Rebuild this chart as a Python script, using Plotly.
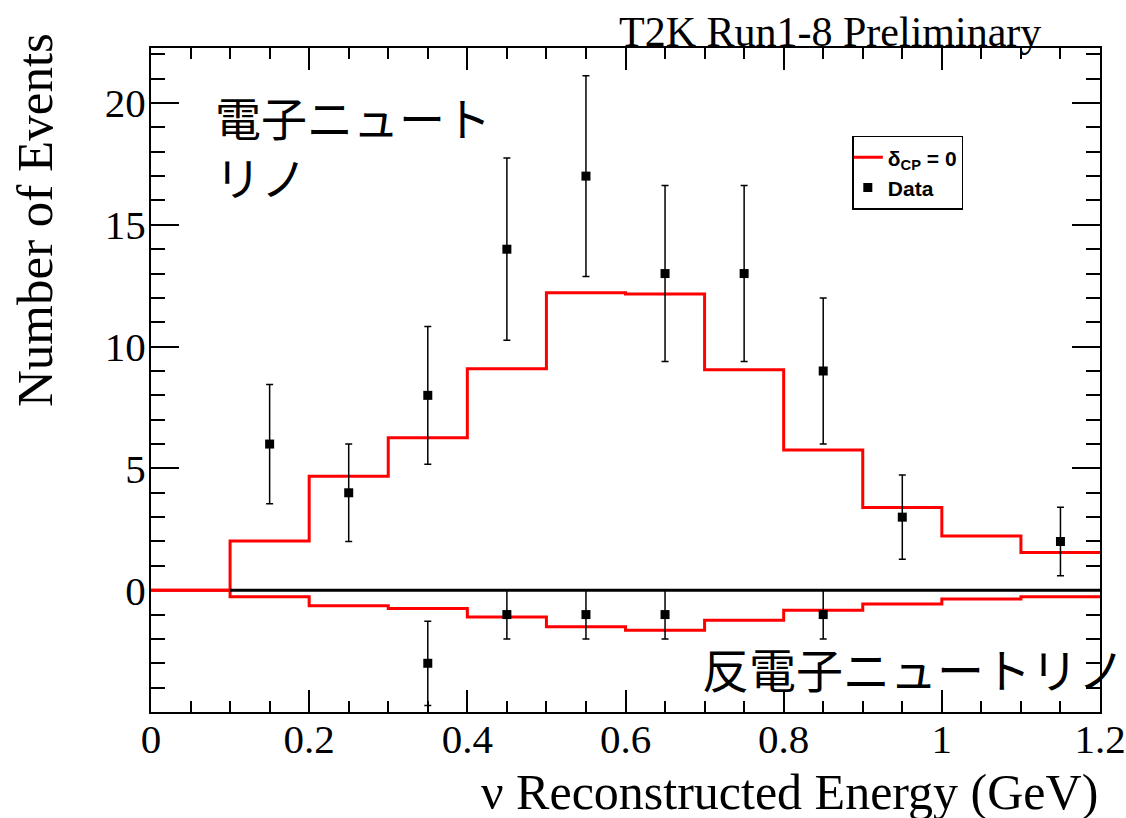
import plotly.graph_objects as go

# ---- data ----
bin_edges = [0.0, 0.1, 0.2, 0.3, 0.4, 0.5, 0.6, 0.7, 0.8, 0.9, 1.0, 1.1, 1.2]
nue_pred = [0.0, 2.02, 4.68, 6.26, 9.09, 12.21, 12.16, 9.05, 5.76, 3.40, 2.23, 1.55]
nuebar_pred = [0.0, -0.27, -0.64, -0.75, -1.10, -1.50, -1.64, -1.23, -0.82, -0.57, -0.36, -0.27]

nue_x = [0.15, 0.25, 0.35, 0.45, 0.55, 0.65, 0.75, 0.85, 0.95, 1.15]
nue_data = [6, 4, 8, 14, 17, 13, 13, 9, 3, 2]
nue_err = [2.45, 2.0, 2.83, 3.74, 4.12, 3.61, 3.61, 3.0, 1.73, 1.41]

nuebar_x = [0.35, 0.45, 0.55, 0.65, 0.85]
nuebar_data = [-3, -1, -1, -1, -1]
nuebar_err = [1.73, 1.0, 1.0, 1.0, 1.0]

zero_x = [0.1, 1.2]
zero_y = [0, 0]

x_ticks = [0, 0.2, 0.4, 0.6, 0.8, 1.0, 1.2]
x_ticklabels = ["0", "0.2", "0.4", "0.6", "0.8", "1", "1.2"]
y_ticks = [0, 5, 10, 15, 20]

SERIF = "Liberation Serif, Times New Roman, serif"
RED = "#ff0000"

fig = go.Figure()

# step histograms
fig.add_trace(go.Scatter(
    x=bin_edges, y=nue_pred + [nue_pred[-1]], mode="lines", line_shape="hv",
    line=dict(color=RED, width=3), name="<b>δ<sub>CP</sub> = 0</b>", showlegend=True))
fig.add_trace(go.Scatter(
    x=bin_edges, y=nuebar_pred + [nuebar_pred[-1]], mode="lines", line_shape="hv",
    line=dict(color=RED, width=3), showlegend=False))

# zero line
fig.add_trace(go.Scatter(x=zero_x, y=zero_y, mode="lines",
                         line=dict(color="black", width=3), showlegend=False))

# data points
fig.add_trace(go.Scatter(
    x=nue_x, y=nue_data, mode="markers", name="<b>Data</b>",
    marker=dict(symbol="square", size=9, color="black"),
    error_y=dict(type="data", array=nue_err, color="black", thickness=1.5, width=3.5)))
fig.add_trace(go.Scatter(
    x=nuebar_x, y=nuebar_data, mode="markers", showlegend=False,
    marker=dict(symbol="square", size=9, color="black"),
    error_y=dict(type="data", array=nuebar_err, color="black", thickness=1.5, width=3.5)))

fig.update_layout(
    width=1126, height=818,
    margin=dict(l=151, r=26, t=48, b=106, autoexpand=False),
    paper_bgcolor="white", plot_bgcolor="white",
    font=dict(family=SERIF, color="black"),
    legend=dict(x=0.739, y=0.868, xanchor="left", yanchor="top",
                bordercolor="black", borderwidth=1.5, bgcolor="white",
                font=dict(family="Liberation Sans, Arial, sans-serif", size=21, color="black"),
                itemwidth=30, tracegroupgap=0, indentation=-6),
    xaxis=dict(range=[0, 1.2], tickvals=x_ticks, ticktext=x_ticklabels, automargin=False,
               ticks="inside", ticklen=22, tickwidth=1.5, tickcolor="black",
               minor=dict(ticks="inside", ticklen=11, dtick=0.05, tickwidth=1.5, tickcolor="black"),
               showline=True, linecolor="black", linewidth=2, mirror="allticks",
               showgrid=False, zeroline=False, layer="below traces", ticklabelstandoff=-10,
               tickfont=dict(family=SERIF, size=41, color="black")),
    yaxis=dict(range=[-5, 22.26], tickvals=y_ticks, automargin=False,
               ticks="inside", ticklen=28, tickwidth=1.5, tickcolor="black",
               minor=dict(ticks="inside", ticklen=14, dtick=1, tickwidth=1.5, tickcolor="black"),
               showline=True, linecolor="black", linewidth=2, mirror="allticks",
               showgrid=False, zeroline=False, ticklabelstandoff=-5, layer="below traces",
               tickfont=dict(family=SERIF, size=41, color="black")),
)

# axis titles and labels
fig.add_annotation(xref="paper", yref="paper", x=1.0, y=-0.121, xanchor="right", yanchor="middle",
                   text="ν Reconstructed Energy (GeV)", showarrow=False,
                   font=dict(family=SERIF, size=50, color="black"))
fig.add_annotation(xref="paper", yref="paper", x=-0.1222, y=0.741, xanchor="center", yanchor="middle",
                   text="Number of Events", textangle=-90, showarrow=False,
                   font=dict(family=SERIF, size=51, color="black"))
fig.add_annotation(xref="paper", yref="paper", x=0.94, y=1.024, xanchor="right", yanchor="middle",
                   text="T2K Run1-8 Preliminary", showarrow=False,
                   font=dict(family=SERIF, size=42, color="black"))

JP = "Noto Sans CJK JP, sans-serif"
fig.add_annotation(xref="paper", yref="paper", x=0.0653, y=(712 - 146) / 664, xanchor="left", yanchor="middle",
                   text="電子ニュート<br>リノ", align="left", showarrow=False,
                   font=dict(family=JP, size=46, color="black"))
fig.add_annotation(xref="paper", yref="paper", x=0.5785, y=0.0663, xanchor="left", yanchor="middle",
                   text="反電子ニュートリノ", showarrow=False, font=dict(family=JP, size=47, color="black"))

fig.write_html("out.html", config={"displayModeBar": False},
               post_script="document.body.style.margin='0';document.body.style.overflow='hidden';")
